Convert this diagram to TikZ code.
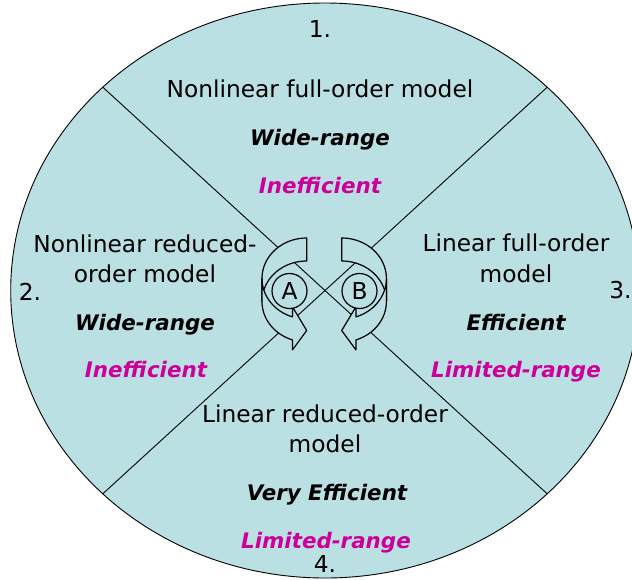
\documentclass[tikz,border=0pt]{standalone}
\usepackage{fontspec}
\setmainfont{DejaVu Sans}
\definecolor{panel}{HTML}{BBE0E3}
\definecolor{accent}{HTML}{CC0099}
\tikzset{
  plaintext/.style={font=\fontsize{23.3}{28}\selectfont, anchor=base, inner sep=0pt},
  boldtext/.style={font=\fontsize{21.4}{26}\selectfont\bfseries\itshape, anchor=base, inner sep=0pt},
  alerttext/.style={boldtext, text=accent},
  divider/.style={draw=black, line width=0.9pt},
  bandarrow/.style={draw=black, fill=panel, line width=1.2pt, line join=round},
  marker/.style={circle, draw=black, fill=panel, line width=1.2pt, minimum size=35pt,
    inner sep=0pt, font=\fontsize{23.3}{28}\selectfont},
}
% Curved block arrow: tail edge at x=0, body bulging to the left,
% head pointing right at the bottom.
\newcommand{\curvedband}{%
  \path[bandarrow] (0,238)
    -- plot[domain=270:180,samples=40] ({44.7*cos(\x)},{278.5+40.5*sin(\x)})
    -- (-44.7,301.5)
    -- plot[domain=180:270,samples=40] ({44.7*cos(\x)},{301.5+40.5*sin(\x)})
    -- cycle;
  \path[bandarrow] (-44.7,278.5)
    -- plot[domain=180:108.52,samples=40] ({44.7*cos(\x)},{278.5+40.5*sin(\x)})
    -- (-14.2,306.9) -- (0,330.5) -- (-14.2,349.9) -- (-14.2,339.9)
    -- plot[domain=108.52:180,samples=40] ({44.7*cos(\x)},{301.5+40.5*sin(\x)})
    -- cycle;
}
\begin{document}
\begin{tikzpicture}[x=1pt,y=-1pt]
\useasboundingbox (0,0) rectangle (632,579);
\clip (0,0) rectangle (632,579);

% background disc
\path[fill=panel, draw=black, line width=0.9pt] (325,290.5) ellipse [x radius=314.3pt, y radius=287.5pt];

% quadrant dividers
\coordinate (ul) at (102.8,87.2);
\coordinate (ur) at (547.2,87.2);
\coordinate (ll) at (102.8,493.8);
\coordinate (lr) at (547.2,493.8);
\draw[divider] (ul) -- (lr);
\draw[divider] (ur) -- (ll);

% circular arrows around the two markers
\begin{scope}[shift={(306.7,0)}]
  \curvedband
\end{scope}
\begin{scope}[shift={(341.7,0)}, xscale=-1]
  \curvedband
\end{scope}
\node[marker] (markA) at (289.5,291) {A};
\node[marker] (markB) at (359.5,291) {B};

% quadrant 1 (top)
\node[plaintext] (n1) at (320,37) {1.};
\node[plaintext] (t1) at (320,97) {Nonlinear full-order model};
\node[boldtext] (r1) at (320,145) {Wide-range};
\node[alerttext] (e1) at (320,193) {Inefficient};

% quadrant 2 (left)
\node[plaintext] (n2) at (30,300) {2.};
\node[plaintext] (t2a) at (145,252) {Nonlinear reduced-};
\node[plaintext] (t2b) at (145,282) {order model};
\node[boldtext] (r2) at (145,330) {Wide-range};
\node[alerttext] (e2) at (146,377) {Inefficient};

% quadrant 3 (right)
\node[plaintext] (n3) at (620.5,298) {3.};
\node[plaintext] (t3a) at (516,251) {Linear full-order};
\node[plaintext] (t3b) at (516,282) {model};
\node[boldtext] (r3) at (516,330) {Efficient};
\node[alerttext] (e3) at (516,377) {Limited-range};

% quadrant 4 (bottom)
\node[plaintext] (t4a) at (325,422) {Linear reduced-order};
\node[plaintext] (t4b) at (325,452) {model};
\node[boldtext] (r4) at (327,500) {Very Efficient};
\node[alerttext] (e4) at (326,548) {Limited-range};
\node[plaintext] (n4) at (325,572) {4.};
\end{tikzpicture}
\end{document}
